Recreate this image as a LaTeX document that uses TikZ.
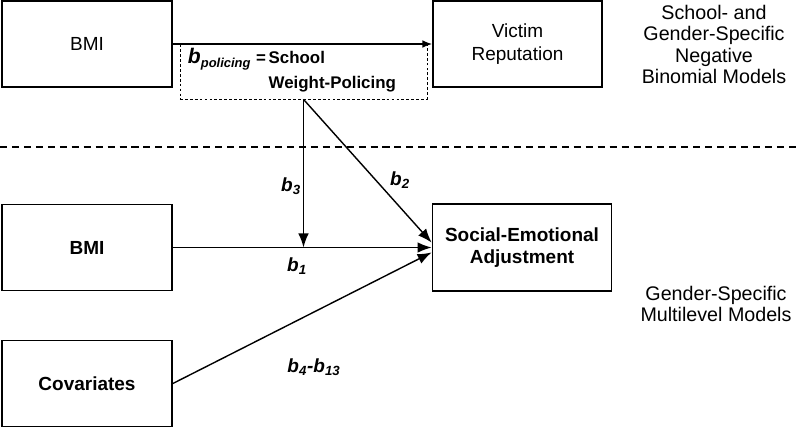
\documentclass[tikz,border=0pt]{standalone}
\usepackage{fontspec}
\setmainfont{Liberation Sans}
\usetikzlibrary{arrows.meta,positioning}

\begin{document}
\begin{tikzpicture}[
  x=0.025cm, y=-0.025cm,
  >={Latex[length=10pt,width=7.5pt]},
  font=\fontsize{13.5}{16}\selectfont,
  box/.style={draw, line width=1.2pt, align=center, minimum width=4.25cm,
              minimum height=2.15cm},
  boldbox/.style={box, font=\fontsize{13.5}{16}\selectfont\bfseries},
  link/.style={->, line width=1pt},
  coef/.style={font=\fontsize{13.5}{16}\selectfont\bfseries\itshape},
  models/.style={align=center, font=\fontsize{14}{15.2}\selectfont}
]
\useasboundingbox (0,0) rectangle (800,428);

% school-level models
\node[box] (bmitop) at (87,44) {BMI};
\node[box, minimum width=4.225cm] (victim) at (517.5,44) {Victim\\ Reputation};
\node[draw, dash pattern=on 2pt off 1.5pt, line width=0.6pt, inner xsep=0.2cm,
      text width=5.775cm, minimum height=1.35cm, align=left,
      font=\fontsize{12}{14}\selectfont\bfseries] (policing) at (303.5,71)
  {\begin{tabular}{@{}r@{\,}l@{}}
     {\fontsize{15}{14}\selectfont\textit{b}}\raisebox{-3.5pt}{\fontsize{9.2}{11}\selectfont\textit{policing}} = & School\\[4pt]
     & Weight-Policing
   \end{tabular}};
\draw[link, >={Latex[length=7pt,width=5.5pt]}] (bmitop.east) -- (victim.west);
\node[models] (nbmodels) at (714,44.5)
  {School- and\\ Gender-Specific\\ Negative\\ Binomial Models};

\draw[line width=1pt, dash pattern=on 5pt off 3.5pt] (0,147) -- (800,147);

% multilevel models
\node[boldbox] (bmi) at (87,247.5) {BMI};
\node[boldbox, minimum width=4.475cm, minimum height=2.175cm] (adjust) at (522,247.5)
  {Social-Emotional\\ Adjustment};
\node[boldbox] (covar) at (87,383.5) {Covariates};
\coordinate (moder) at (policing.south |- bmi.east);

\draw[link] (bmi) -- (adjust);
\draw[link] (policing.south) -- (moder);
\draw[link] (policing.south) -- ([yshift=3.5pt]adjust.west);
\draw[link] (covar.east) -- ([yshift=-3.5pt]adjust.west);

\node[coef] (b3) at (291,186) {b\textsubscript{3}};
\node[coef] (b2) at (400,180) {b\textsubscript{2}};
\node[coef] (b1) at (297,266) {b\textsubscript{1}};
\node[coef] (b4) at (314,367) {b\textsubscript{4}-b\textsubscript{13}};
\node[models] (mlmodels) at (716,304)
  {Gender-Specific\\ Multilevel Models};
\end{tikzpicture}
\end{document}
